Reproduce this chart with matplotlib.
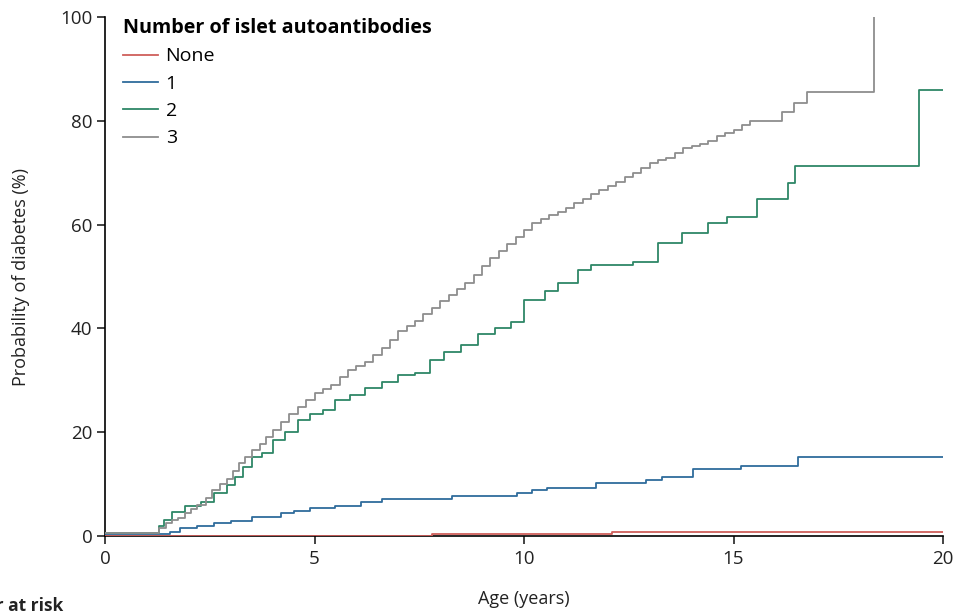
import matplotlib
matplotlib.use("Agg")
import matplotlib.pyplot as plt

plt.rcParams['font.family'] = ['Open Sans', 'DejaVu Sans']

# ---- data ----
labels = ["None", "1", "2", "3"]
colors = ["#cf5f5b", "#2f6c9c", "#2e8767", "#8e8e8e"]

t_none = [0, 7.8, 12.1, 20]
p_none = [0, 0.3, 0.7, 0.7]

t_one = [0, 1.55, 1.8, 2.2, 2.6, 3.0, 3.5, 4.2, 4.5, 4.9, 5.5, 6.1, 6.6, 8.28,
         9.83, 10.2, 10.55, 11.72, 12.9, 13.3, 14.03, 15.18, 16.54, 20]
p_one = [0.3, 0.8, 1.5, 2.0, 2.5, 2.9, 3.6, 4.4, 4.8, 5.4, 5.8, 6.6, 7.1, 7.7,
         8.2, 8.9, 9.3, 10.3, 10.8, 11.4, 13.0, 13.5, 15.2, 15.2]

t_two = [0, 1.3, 1.4, 1.6, 1.9, 2.3, 2.6, 2.9, 3.1, 3.3, 3.5, 3.75, 4.0, 4.3,
         4.6, 4.9, 5.2, 5.5, 5.85, 6.2, 6.6, 7.0, 7.4, 7.75, 8.1, 8.5, 8.9, 9.3,
         9.7, 10.0, 10.5, 10.8, 11.3, 11.6, 12.6, 13.2, 13.77, 14.4, 14.85,
         15.56, 16.3, 16.47, 19.43, 20]
p_two = [0.5, 2, 3, 4.6, 5.8, 6.5, 8.3, 9.8, 11.4, 13.3, 15.2, 16, 18.5, 20,
         22.4, 23.5, 24.3, 26.2, 27.2, 28.5, 29.7, 31, 31.4, 34, 35.5, 36.8, 39,
         40, 41.2, 45.5, 47.2, 48.7, 51.2, 52.2, 52.8, 56.4, 58.4, 60.3, 61.5,
         65, 68, 71.3, 86, 86]

t_three = [0, 1.3, 1.45, 1.6, 1.75, 1.9, 2.05, 2.2, 2.4, 2.55, 2.75, 2.9, 3.05,
           3.2, 3.35, 3.5, 3.7, 3.85, 4.0, 4.2, 4.4, 4.6, 4.8, 5.0, 5.2, 5.4,
           5.6, 5.8, 6.0, 6.2, 6.4, 6.6, 6.8, 7.0, 7.2, 7.4, 7.6, 7.8, 8.0,
           8.2, 8.4, 8.6, 8.8, 9.0, 9.2, 9.4, 9.6, 9.8, 10.0, 10.2, 10.4, 10.6,
           10.8, 11.0, 11.2, 11.4, 11.6, 11.8, 12.0, 12.2, 12.4, 12.6, 12.8,
           13.0, 13.2, 13.4, 13.6, 13.8, 14.0, 14.2, 14.4, 14.6, 14.8, 15.0,
           15.2, 15.4, 16.15, 16.45, 16.75, 18.35]
p_three = [0.5, 1.5, 2.5, 3.0, 3.5, 4.4, 5.2, 6.0, 7.4, 8.9, 10.0, 11.0, 12.5,
           14.0, 15.3, 16.6, 17.8, 19.1, 20.5, 22.0, 23.5, 24.9, 26.2, 27.5,
           28.3, 29.1, 30.6, 32.0, 32.8, 33.5, 34.9, 36.2, 37.8, 39.5, 40.5,
           41.5, 42.8, 44.0, 45.3, 46.5, 47.6, 48.7, 50.3, 52.0, 53.5, 55.0,
           56.3, 57.6, 59.0, 60.3, 61.0, 61.8, 62.5, 63.2, 64.1, 65.0, 65.9,
           66.7, 67.5, 68.2, 69.1, 70.0, 71.0, 71.9, 72.4, 72.8, 73.8, 74.8,
           75.1, 75.5, 76.2, 77.0, 77.6, 78.3, 79.1, 80.0, 81.7, 83.4, 85.5,
           100]

x_ticks = [0, 5, 10, 15, 20]
y_ticks = [0, 20, 40, 60, 80, 100]

series = [(t_none, p_none), (t_one, p_one), (t_two, p_two), (t_three, p_three)]

# ---- figure ----
fig = plt.figure(figsize=(9.57, 6.13), dpi=100)
ax = fig.add_axes([105/957, 1 - 536/613, (943 - 105)/957, (536 - 17)/613])

for (t, p), lab, col in zip(series, labels, colors):
    ax.step(t, p, where='post', color=col, lw=1.3, label=lab, zorder=3)

ax.set_xlim(0, 20)
ax.set_ylim(0, 100)
ax.set_xticks(x_ticks)
ax.set_yticks(y_ticks)
ax.set_xticklabels([str(v) for v in x_ticks])
ax.set_yticklabels([str(v) for v in y_ticks])
for s in ['top', 'right']:
    ax.spines[s].set_visible(False)
for s in ['left', 'bottom']:
    ax.spines[s].set_linewidth(1.2)
    ax.spines[s].set_color('black')
ax.tick_params(direction='out', length=6, width=1.2, labelsize=13.5, colors='#222222', pad=3)
ax.tick_params(axis='x', pad=4)

ax.set_ylabel("Probability of diabetes (%)", fontsize=13, color='#222222', labelpad=22)
ax.set_xlabel("Age (years)", fontsize=13, color='#222222', labelpad=16)

leg = ax.legend(title="Number of islet autoantibodies", loc='upper left',
                bbox_to_anchor=(0.012, 1.013), frameon=False, fontsize=14,
                title_fontsize=14.2, handlelength=1.8, handletextpad=0.4,
                labelspacing=0.48, borderaxespad=0)
leg.get_title().set_fontweight('bold')
leg._legend_box.align = "left"

fig.text(63/957, 1 - 597/613, "Number at risk", fontsize=12.5, fontweight='bold',
         ha='right', va='top', color='#222222')

fig.savefig("out.png", dpi=100)
